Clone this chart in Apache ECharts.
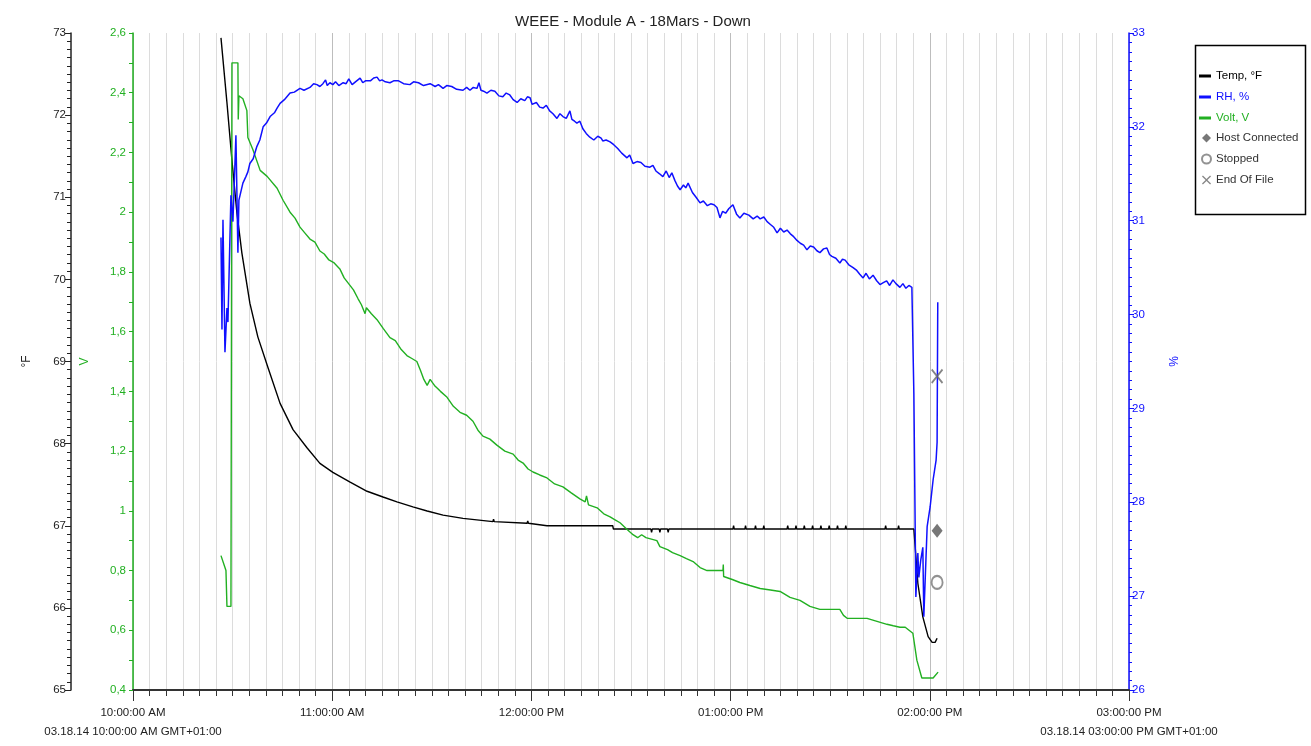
<!DOCTYPE html>
<html>
<head>
<meta charset="utf-8">
<title>WEEE - Module A - 18Mars - Down</title>
<script src="https://cdn.jsdelivr.net/npm/echarts@6/dist/echarts.min.js"></script>
<style>
  html, body { margin: 0; padding: 0; background: #ffffff; }
  #chart { width: 1311px; height: 746px; }
</style>
</head>
<body>
<div id="chart"></div>
<script>
// Time is in minutes since midnight on 03.18.14 (600 = 10:00:00 AM).
const hourLabels = {
  600: '10:00:00 AM', 660: '11:00:00 AM', 720: '12:00:00 PM',
  780: '01:00:00 PM', 840: '02:00:00 PM', 900: '03:00:00 PM'
};
const dateLabels = {
  600: '03.18.14 10:00:00 AM GMT+01:00',
  900: '03.18.14 03:00:00 PM GMT+01:00'
};

// Temp, °F
const tempPoints = [
  [626.5,72.94],[628.3,72.15],[629.8,71.45],[631.3,70.81],[632.8,70.32],[635.2,69.71],
  [637.6,69.30],[640.7,68.92],[644.3,68.49],[648.2,68.17],[652.4,67.95],[656.3,67.76],
  [660.2,67.65],[665.4,67.53],[670.5,67.42],[675.3,67.35],[679.5,67.29],[684.3,67.23],
  [688.6,67.18],[693.4,67.13],[699.4,67.09],[708.4,67.05],[708.6,67.08],[708.8,67.05],
  [718.7,67.03],[718.9,67.06],[719.1,67.03],[724.7,67.00],[744.5,67.00],[744.7,66.96],
  [756.0,66.96],[756.2,66.92],[756.4,66.96],[758.5,66.96],[758.7,66.92],[758.9,66.96],
  [761.0,66.96],[761.2,66.92],[761.4,66.96],[780.7,66.96],[780.9,67.00],[781.1,66.96],
  [784.3,66.96],[784.5,67.00],[784.7,66.96],[787.3,66.96],[787.5,67.00],[787.7,66.96],
  [789.8,66.96],[790.0,67.00],[790.2,66.96],[797.0,66.96],[797.2,67.00],[797.4,66.96],
  [799.5,66.96],[799.7,67.00],[799.9,66.96],[802.0,66.96],[802.2,67.00],[802.4,66.96],
  [804.5,66.96],[804.7,67.00],[804.9,66.96],[807.0,66.96],[807.2,67.00],[807.4,66.96],
  [809.5,66.96],[809.7,67.00],[809.9,66.96],[812.0,66.96],[812.2,67.00],[812.4,66.96],
  [814.5,66.96],[814.7,67.00],[814.9,66.96],[826.5,66.96],[826.7,67.00],[826.9,66.96],
  [830.4,66.96],[830.6,67.00],[830.8,66.96],[835.2,66.96],[836.4,66.30],[837.9,65.89],
  [839.5,65.65],[840.7,65.58],[841.6,65.58],[842.2,65.63]
];

// RH, %
const rhPoints = [
  [626.5,30.82],[626.8,29.84],[627.1,31.01],[627.7,29.60],[628.3,30.07],[628.6,29.92],
  [629.5,31.27],[630.1,30.99],[631.0,31.91],[631.6,30.66],[631.9,31.22],[633.1,31.40],
  [634.0,31.47],[634.6,31.52],[635.2,31.61],[636.2,31.66],[637.3,31.79],[638.2,31.86],
  [639.2,32.00],[640.2,32.04],[641.3,32.11],[642.6,32.15],[643.4,32.20],[644.3,32.25],
  [645.6,32.29],[647.3,32.36],[648.6,32.37],[650.3,32.41],[651.5,32.39],[653.3,32.42],
  [654.4,32.46],[655.4,32.45],[656.3,32.43],[657.2,32.46],[658.0,32.50],[658.5,32.44],
  [659.3,32.47],[660.2,32.45],[661.0,32.48],[662.0,32.44],[663.3,32.47],[664.2,32.46],
  [665.0,32.51],[666.0,32.45],[667.0,32.48],[668.4,32.52],[669.2,32.47],[670.0,32.49],
  [671.5,32.49],[672.5,32.52],[673.5,32.53],[674.3,32.49],[675.0,32.50],[676.0,32.48],
  [677.4,32.47],[678.5,32.49],[680.0,32.49],[681.5,32.46],[683.4,32.45],[684.5,32.48],
  [686.0,32.47],[687.5,32.44],[689.5,32.46],[691.0,32.43],[692.0,32.45],[693.4,32.41],
  [694.5,32.44],[696.0,32.43],[697.5,32.40],[699.4,32.39],[700.5,32.42],[701.5,32.39],
  [702.5,32.42],[703.6,32.41],[704.2,32.47],[704.8,32.39],[705.6,32.38],[706.6,32.36],
  [707.8,32.39],[709.0,32.38],[710.2,32.33],[711.4,32.32],[712.4,32.36],[713.5,32.34],
  [714.5,32.29],[715.7,32.26],[716.8,32.30],[718.0,32.28],[718.8,32.32],[719.6,32.31],
  [720.2,32.24],[721.5,32.26],[722.5,32.21],[723.5,32.20],[724.5,32.23],[725.5,32.17],
  [726.5,32.14],[727.7,32.09],[728.6,32.14],[729.5,32.11],[730.5,32.09],[731.6,32.17],
  [732.2,32.08],[733.0,32.06],[733.7,32.04],[734.6,32.06],[735.5,31.98],[736.5,31.93],
  [737.6,31.89],[738.8,31.86],[740.0,31.90],[741.0,31.88],[741.5,31.85],[742.5,31.86],
  [743.7,31.84],[744.8,31.81],[746.0,31.77],[747.2,31.72],[748.8,31.67],[749.6,31.70],
  [750.6,31.61],[751.8,31.63],[753.0,31.62],[754.2,31.58],[755.7,31.57],[756.6,31.59],
  [757.5,31.53],[758.6,31.50],[759.6,31.47],[760.6,31.53],[761.5,31.46],[762.3,31.51],
  [763.2,31.43],[764.0,31.37],[764.8,31.33],[765.8,31.38],[766.5,31.35],[767.2,31.40],
  [768.5,31.30],[769.6,31.25],[770.8,31.19],[771.8,31.21],[773.0,31.16],[774.0,31.18],
  [775.0,31.17],[775.9,31.14],[776.8,31.03],[777.6,31.10],[778.5,31.08],[779.5,31.13],
  [780.7,31.17],[781.8,31.07],[782.8,31.03],[784.0,31.08],[785.5,31.06],[786.8,31.02],
  [788.0,31.05],[788.9,31.02],[790.0,31.04],[791.0,30.99],[792.0,30.96],[793.0,30.93],
  [794.0,30.87],[795.0,30.92],[796.0,30.88],[797.0,30.90],[798.0,30.86],[799.0,30.83],
  [800.0,30.79],[801.0,30.76],[802.0,30.74],[803.0,30.69],[804.0,30.73],[805.0,30.72],
  [806.0,30.68],[806.9,30.66],[808.0,30.70],[809.0,30.71],[809.8,30.64],[810.5,30.62],
  [811.7,30.60],[812.9,30.55],[813.7,30.59],[814.5,30.58],[815.6,30.53],[816.9,30.50],
  [818.0,30.47],[818.9,30.43],[819.9,30.39],[820.8,30.44],[821.8,30.38],[822.9,30.42],
  [824.0,30.36],[825.0,30.32],[826.0,30.34],[827.0,30.36],[827.9,30.31],[828.9,30.37],
  [829.8,30.33],[831.0,30.29],[831.9,30.33],[832.8,30.28],[833.7,30.31],[834.6,30.29],
  [835.2,29.16],[835.8,26.99],[836.4,27.46],[836.7,27.20],[837.3,27.39],[837.9,27.52],
  [838.2,26.78],[839.2,27.74],[840.1,27.95],[841.0,28.24],[841.9,28.45],[842.2,28.64],
  [842.4,30.13]
];

// Volt, V
const voltPoints = [
  [626.5,0.85],[627.7,0.81],[628.0,0.80],[628.3,0.68],[629.5,0.68],[629.8,2.50],
  [631.6,2.50],[631.7,2.31],[631.9,2.39],[633.1,2.38],[634.3,2.34],[634.6,2.25],
  [636.1,2.21],[638.3,2.14],[640.4,2.12],[643.4,2.08],[645.2,2.04],[647.3,2.00],
  [648.8,1.98],[650.3,1.95],[651.8,1.93],[653.3,1.91],[654.8,1.90],[656.3,1.87],
  [657.6,1.86],[659.0,1.84],[660.6,1.83],[662.3,1.81],[663.6,1.78],[665.0,1.76],
  [666.4,1.74],[667.8,1.71],[668.8,1.69],[669.9,1.66],[670.3,1.68],[671.8,1.66],
  [673.5,1.64],[675.4,1.61],[677.4,1.58],[679.0,1.57],[680.8,1.54],[682.5,1.52],
  [684.0,1.51],[685.5,1.50],[686.6,1.47],[687.6,1.44],[688.6,1.42],[689.5,1.44],
  [690.8,1.42],[692.6,1.40],[694.6,1.38],[696.5,1.35],[698.5,1.33],[700.5,1.32],
  [702.4,1.30],[703.9,1.27],[705.4,1.25],[707.5,1.24],[709.6,1.22],[712.0,1.20],
  [714.5,1.19],[716.0,1.17],[717.5,1.16],[719.0,1.14],[720.5,1.13],[722.5,1.12],
  [724.7,1.11],[727.0,1.09],[729.5,1.08],[732.0,1.06],[734.6,1.04],[736.2,1.03],
  [736.6,1.05],[737.2,1.02],[739.8,1.01],[741.8,0.99],[743.7,0.98],[745.2,0.97],
  [746.7,0.96],[748.6,0.94],[750.6,0.92],[752.0,0.91],[753.2,0.92],[754.5,0.91],
  [757.8,0.90],[758.7,0.88],[761.0,0.87],[762.5,0.86],[764.8,0.85],[766.7,0.84],
  [768.7,0.83],[770.8,0.81],[772.9,0.80],[775.0,0.80],[777.7,0.80],[777.8,0.82],
  [777.9,0.78],[780.5,0.77],[782.8,0.76],[785.8,0.75],[788.9,0.74],[792.0,0.735],
  [794.9,0.73],[797.9,0.71],[800.9,0.70],[803.9,0.68],[806.9,0.67],[810.0,0.67],
  [812.9,0.67],[814.0,0.65],[815.1,0.64],[818.1,0.64],[821.1,0.64],[824.1,0.63],
  [827.1,0.62],[829.0,0.615],[831.0,0.61],[832.6,0.61],[833.2,0.605],[834.9,0.59],
  [836.1,0.50],[837.6,0.44],[841.0,0.44],[842.5,0.46]
];

// Logger events, placed on the °F scale
const hostConnectedPoints = [[842.2, 66.94]];
const stoppedPoints = [[842.2, 66.31]];
const endOfFilePoints = [[842.2, 68.82]];

const FONT = "'Liberation Sans', Arial, sans-serif";
const BLUE = '#1010ff';
const GREEN = '#22b022';
const X_ICON = 'path://M1,0L5,4L9,0L10,1L6,5L10,9L9,10L5,6L1,10L0,9L4,5L0,1Z';

const chart = echarts.init(document.getElementById('chart'));

chart.setOption({
  animation: false,
  backgroundColor: '#ffffff',
  textStyle: { fontFamily: FONT },
  title: {
    text: 'WEEE - Module A - 18Mars - Down',
    left: 628, top: 9, textAlign: 'center',
    textStyle: { fontFamily: FONT, fontSize: 15, fontWeight: 'normal', color: '#222' }
  },
  grid: { left: 133, right: 182, top: 33, bottom: 56, containLabel: false },
  legend: [
    {
      orient: 'vertical', left: 1199, top: 69, padding: 0,
      itemWidth: 12, itemHeight: 3, itemGap: 7,
      textStyle: { fontFamily: FONT, fontSize: 11.5, lineHeight: 14 },
      data: [
        { name: 'Temp, °F', icon: 'rect', textStyle: { color: '#000' } },
        { name: 'RH, %', icon: 'rect', textStyle: { color: BLUE } },
        { name: 'Volt, V', icon: 'rect', textStyle: { color: GREEN } }
      ]
    },
    {
      orient: 'vertical', left: 1201, top: 131, padding: 0,
      itemWidth: 9, itemHeight: 9, itemGap: 7,
      textStyle: { fontFamily: FONT, fontSize: 11.5, lineHeight: 14, color: '#333' },
      data: [
        { name: 'Host Connected', icon: 'diamond' },
        { name: 'Stopped', icon: 'emptyCircle' },
        { name: 'End Of File', icon: X_ICON }
      ]
    }
  ],
  graphic: [
    {
      type: 'rect', left: 1193, top: 43,
      shape: { width: 110, height: 169 },
      style: { fill: 'none', stroke: '#000', lineWidth: 1.5 }
    }
  ],
  xAxis: {
    type: 'value', min: 600, max: 900, interval: 60,
    axisLine: { show: true, lineStyle: { color: '#333', width: 2 } },
    axisTick: { show: true, length: 11, lineStyle: { color: '#333', width: 1 } },
    minorTick: { show: true, splitNumber: 12, length: 6, lineStyle: { color: '#333', width: 1 } },
    splitLine: { show: true, lineStyle: { color: '#bdbdbd', width: 1 } },
    minorSplitLine: { show: true, lineStyle: { color: '#dcdcdc', width: 1 } },
    axisLabel: {
      margin: 13, color: '#222', fontFamily: FONT, fontSize: 11.5, lineHeight: 19,
      showMinLabel: true, showMaxLabel: true,
      formatter: v => dateLabels[v] ? hourLabels[v] + '\n' + dateLabels[v] : (hourLabels[v] || '')
    }
  },
  yAxis: [
    {
      type: 'value', position: 'left', offset: 62, min: 65, max: 73, interval: 1,
      name: '°F', nameLocation: 'middle', nameGap: 38,
      nameTextStyle: { fontFamily: FONT, fontSize: 12, color: '#222' },
      axisLine: { show: true, lineStyle: { color: '#222', width: 1.5 } },
      axisTick: { show: true, length: 6, lineStyle: { color: '#222' } },
      minorTick: { show: true, splitNumber: 10, length: 4, lineStyle: { color: '#222' } },
      splitLine: { show: false },
      axisLabel: { margin: 5, color: '#222', fontFamily: FONT, fontSize: 11.5 }
    },
    {
      type: 'value', position: 'left', offset: 0, min: 0.4, max: 2.6, interval: 0.2,
      name: 'V', nameLocation: 'middle', nameGap: 42,
      nameTextStyle: { fontFamily: FONT, fontSize: 12, color: GREEN },
      axisLine: { show: true, lineStyle: { color: GREEN, width: 1.5 } },
      axisTick: { show: true, length: 4, lineStyle: { color: GREEN } },
      minorTick: { show: true, splitNumber: 2, length: 4, lineStyle: { color: GREEN } },
      splitLine: { show: false },
      axisLabel: {
        margin: 7, color: GREEN, fontFamily: FONT, fontSize: 11.5,
        formatter: v => String(+v.toFixed(1)).replace('.', ',')
      }
    },
    {
      type: 'value', position: 'right', offset: 0, min: 26, max: 33, interval: 1,
      name: '%', nameLocation: 'middle', nameGap: 40,
      nameTextStyle: { fontFamily: FONT, fontSize: 12, color: BLUE },
      axisLine: { show: true, lineStyle: { color: BLUE, width: 1.5 } },
      axisTick: { show: true, length: 5, lineStyle: { color: BLUE } },
      minorTick: { show: true, splitNumber: 10, length: 3, lineStyle: { color: BLUE } },
      splitLine: { show: false },
      axisLabel: { margin: 3, color: BLUE, fontFamily: FONT, fontSize: 11.5 }
    }
  ],
  series: [
    {
      name: 'Temp, °F', type: 'line', yAxisIndex: 0, data: tempPoints,
      symbol: 'none', color: '#000', lineStyle: { color: '#000', width: 1.4 }, z: 3
    },
    {
      name: 'RH, %', type: 'line', yAxisIndex: 2, data: rhPoints,
      symbol: 'none', color: BLUE, lineStyle: { color: BLUE, width: 1.5 }, z: 4
    },
    {
      name: 'Volt, V', type: 'line', yAxisIndex: 1, data: voltPoints,
      symbol: 'none', color: GREEN, lineStyle: { color: GREEN, width: 1.4 }, z: 3
    },
    {
      name: 'Host Connected', type: 'scatter', yAxisIndex: 0, data: hostConnectedPoints,
      symbol: 'diamond', symbolSize: [11, 14], itemStyle: { color: '#555' }, z: 5
    },
    {
      name: 'Stopped', type: 'scatter', yAxisIndex: 0, data: stoppedPoints,
      symbol: 'emptyCircle', symbolSize: [11, 13],
      itemStyle: { color: '#777', borderColor: '#777', borderWidth: 1.5 }, z: 5
    },
    {
      name: 'End Of File', type: 'scatter', yAxisIndex: 0, data: endOfFilePoints,
      symbol: X_ICON, symbolSize: [12, 15], itemStyle: { color: '#666' }, z: 5
    }
  ]
});
</script>
</body>
</html>
